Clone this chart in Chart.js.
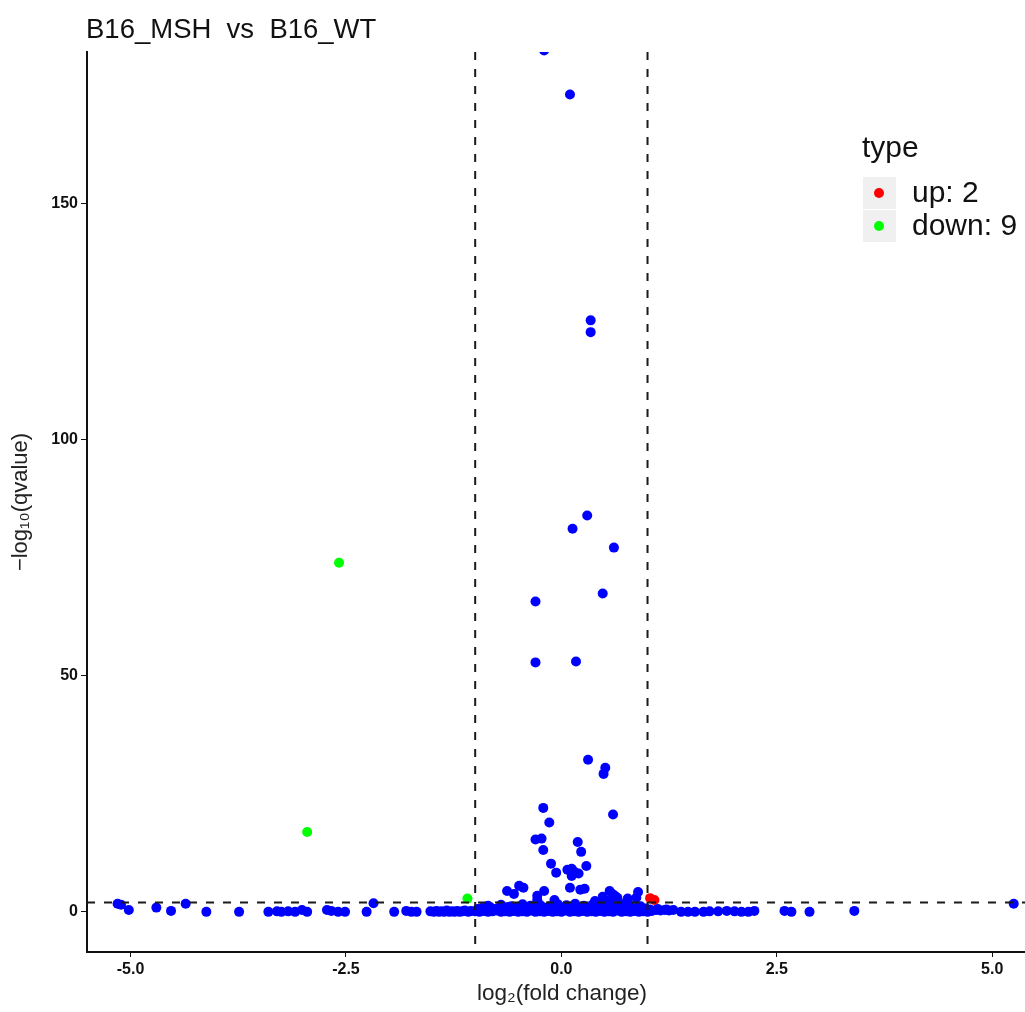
<!DOCTYPE html>
<html>
<head>
<meta charset="utf-8">
<script src="https://cdn.jsdelivr.net/npm/chart.js@4"></script>
<style>
html, body { margin: 0; padding: 0; background: #fff; overflow: hidden; }
</style>
</head>
<body>
<!-- the reference is cropped on the right, so the canvas runs a little past the window -->
<canvas id="volcano" width="1042" height="1012"></canvas>
<script>
// values: [log2 fold change, -log10 qvalue]
const titleText = 'B16_MSH  vs  B16_WT';
const xTicks = [-5, -2.5, 0, 2.5, 5];
const yTicks = [0, 50, 100, 150];
const fcCutoffs = [-1, 1];
const qCutoff = 2;
const legendTitle = 'type';
const legendLabels = ['up: 2', 'down: 9'];

const upPoints = [[1.03, 2.9], [1.08, 2.5]];
const downPoints = [[-2.58, 73.9], [-2.95, 16.9], [-1.09, 2.8]];

const highPoints = [
    [-0.20, 182.3], [0.10, 173], [0.34, 125.2], [0.34, 122.7],
    [0.30, 83.9], [0.13, 81.1], [0.61, 77.1], [-0.30, 65.7], [0.48, 67.4],
    [-0.30, 52.8], [0.17, 53.0], [0.31, 32.2], [0.51, 30.5], [0.49, 29.2],
    [0.60, 20.6], [-0.21, 22.0], [-0.14, 18.9], [-0.30, 15.3], [-0.23, 15.5],
    [0.19, 14.8], [-0.21, 13.1], [0.23, 12.7], [-0.12, 10.2], [0.29, 9.7],
    [-0.06, 8.3], [0.07, 8.9], [0.12, 9.1], [0.15, 8.5], [0.20, 8.1], [0.12, 7.6],
    [0.10, 5.1], [0.22, 4.7], [0.27, 4.9], [-0.63, 4.4], [-0.55, 3.8],
    [-0.49, 5.5], [-0.44, 5.1], [-0.20, 4.4], [-0.28, 3.4], [0.56, 4.4],
    [0.59, 3.8], [0.65, 3.0], [0.89, 4.2], [0.87, 3.0], [0.48, 3.2], [0.77, 2.8],
    [-0.28, 2.5], [-0.08, 2.5], [0.39, 2.3], [0.47, 2.3], [0.54, 2.3],
    [0.74, 1.8], [0.62, 3.4]
];

const sidePoints = [
    [-5.15, 1.7], [-5.11, 1.5], [-5.02, 0.4], [-4.70, 0.9], [-4.53, 0.2], [-4.36, 1.7],
    [-4.12, 0], [-3.74, 0], [-3.40, 0], [-3.30, 0.1], [-3.25, 0], [-3.17, 0.1],
    [-3.09, 0], [-3.01, 0.4], [-2.95, 0], [-2.72, 0.4], [-2.67, 0.2], [-2.59, 0],
    [-2.51, 0], [-2.26, 0], [-2.18, 1.8], [-1.94, 0], [-1.80, 0.2], [-1.74, 0],
    [-1.68, 0], [1.39, 0], [1.47, 0], [1.55, 0], [1.65, 0], [1.72, 0.1],
    [1.82, 0.1], [1.92, 0.2], [2.01, 0.1], [2.09, 0], [2.17, 0], [2.24, 0.2],
    [2.59, 0.2], [2.67, 0], [2.88, 0], [3.40, 0.2], [5.25, 1.7]
];

const bandPoints = [
    [-1.52, 0.1], [-1.48, 0], [-1.45, 0.2], [-1.42, 0], [-1.39, 0.1], [-1.36, 0],
    [-1.33, 0.3], [-1.30, 0], [-1.27, 0.1], [-1.24, 0], [-1.21, 0.2], [-1.18, 0],
    [-1.15, 0.1], [-1.12, 0.3], [-1.08, 0], [-1.05, 0.2],
    [-1.00, 0.1], [-0.95, 0], [-0.90, 0.2], [-0.85, 0], [-0.80, 0.1], [-0.75, 0.3],
    [-0.70, 0], [-0.65, 0.1], [-0.60, 0], [-0.55, 0.2], [-0.50, 0], [-0.45, 0.1],
    [-0.40, 0], [-0.35, 0.3], [-0.30, 0], [-0.25, 0.1], [-0.20, 0], [-0.15, 0.2],
    [-0.10, 0], [-0.05, 0.1], [0.00, 0], [0.05, 0.3], [0.10, 0], [0.15, 0.1],
    [0.20, 0], [0.25, 0.2], [0.30, 0], [0.35, 0.1], [0.40, 0], [0.45, 0.2],
    [0.50, 0], [0.55, 0.1], [0.60, 0], [0.65, 0.3], [0.70, 0], [0.75, 0.1],
    [0.80, 0], [0.85, 0.2], [0.90, 0], [0.95, 0.1], [1.00, 0], [1.05, 0.2],
    [1.10, 0.4], [1.15, 0.3], [1.20, 0.4], [1.25, 0.3], [1.30, 0.4],
    [-0.97, 0.6], [-0.92, 0.8], [-0.87, 0.5], [-0.82, 0.9], [-0.77, 0.6], [-0.72, 0.8],
    [-0.67, 0.5], [-0.62, 1.0], [-0.57, 0.7], [-0.52, 0.9], [-0.47, 0.6], [-0.42, 1.0],
    [-0.37, 0.7], [-0.32, 0.9], [-0.27, 0.6], [-0.22, 1.0], [-0.17, 0.8], [-0.12, 0.9],
    [-0.07, 0.6], [-0.02, 1.0], [0.03, 0.8], [0.08, 0.9], [0.13, 0.7], [0.18, 1.0],
    [0.23, 0.8], [0.28, 0.9], [0.33, 0.6], [0.38, 1.0], [0.43, 0.7], [0.48, 0.9],
    [0.53, 0.6], [0.58, 1.0], [0.63, 0.7], [0.68, 0.9], [0.73, 0.6], [0.78, 0.8],
    [0.83, 0.5], [0.88, 0.9], [0.93, 0.6], [0.98, 0.7], [1.03, 0.5], [1.12, 0.6],
    [1.22, 0.5],
    [-0.85, 1.3], [-0.70, 1.5], [-0.58, 1.2], [-0.45, 1.6], [-0.36, 1.3], [-0.25, 1.5],
    [-0.14, 1.2], [-0.04, 1.6], [0.06, 1.4], [0.16, 1.7], [0.26, 1.3], [0.36, 1.5],
    [0.46, 1.2], [0.57, 1.6], [0.67, 1.3], [0.79, 1.5], [0.92, 1.2]
];

const FONT = '"Liberation Sans", Arial, Helvetica, sans-serif';
const toXY = arr => arr.map(p => ({ x: p[0], y: p[1] }));

function pointSet(label, arr, color) {
    return {
        label: label,
        data: toXY(arr),
        backgroundColor: color,
        borderWidth: 0,
        pointRadius: 5,
        pointHoverRadius: 5,
        clip: 0
    };
}

const extras = {
    id: 'extras',
    beforeDraw(chart) {
        const ctx = chart.ctx;
        ctx.save();
        ctx.fillStyle = '#fff';
        ctx.fillRect(0, 0, chart.width, chart.height);
        ctx.restore();
    },
    afterDatasetsDraw(chart) {
        const { ctx, chartArea: a, scales: { x, y } } = chart;
        ctx.save();
        ctx.strokeStyle = '#1a1a1a';
        ctx.lineWidth = 2;
        ctx.setLineDash([8, 9]);
        fcCutoffs.forEach(v => {
            const px = x.getPixelForValue(v);
            ctx.beginPath();
            ctx.moveTo(px, a.top);
            ctx.lineTo(px, a.bottom);
            ctx.stroke();
        });
        const py = y.getPixelForValue(qCutoff);
        ctx.beginPath();
        ctx.moveTo(a.left, py);
        ctx.lineTo(a.right, py);
        ctx.stroke();
        ctx.restore();
    },
    afterDraw(chart) {
        const { ctx, chartArea: a } = chart;
        ctx.save();
        // title
        ctx.fillStyle = '#111';
        ctx.font = '27.5px ' + FONT;
        ctx.textBaseline = 'alphabetic';
        ctx.textAlign = 'left';
        ctx.fillText(titleText, a.left - 1, 38);
        // legend
        ctx.font = '30px ' + FONT;
        ctx.fillText(legendTitle, 862, 157);
        const colors = ['#ff0000', '#00ff00'];
        legendLabels.forEach((txt, i) => {
            const top = 177 + i * 33;
            ctx.fillStyle = '#f0f0f0';
            ctx.fillRect(863, top, 33, 32);
            ctx.fillStyle = colors[i];
            ctx.beginPath();
            ctx.arc(879, top + 16, 5, 0, Math.PI * 2);
            ctx.fill();
            ctx.fillStyle = '#111';
            ctx.textBaseline = 'middle';
            ctx.fillText(txt, 912, top + 17);
        });
        ctx.restore();
    }
};

new Chart(document.getElementById('volcano').getContext('2d'), {
    type: 'scatter',
    data: {
        datasets: [
            pointSet('other', bandPoints.concat(sidePoints, highPoints), '#0000ff'),
            pointSet('down', downPoints, '#00ff00'),
            pointSet('up', upPoints, '#ff0000')
        ]
    },
    options: {
        responsive: false,
        animation: false,
        devicePixelRatio: 1,
        layout: { padding: { top: 52, left: 0, right: 0, bottom: 0 } },
        plugins: {
            legend: { display: false },
            tooltip: { enabled: false },
            title: { display: false }
        },
        scales: {
            x: {
                type: 'linear',
                min: -5.505,
                max: 5.52,
                afterBuildTicks: s => { s.ticks = xTicks.map(v => ({ value: v })); },
                afterFit: s => { s.height = 60; },
                ticks: {
                    callback: v => v.toFixed(1),
                    font: { family: FONT, size: 16, weight: 'bold' },
                    color: '#111',
                    padding: 3,
                    maxRotation: 0
                },
                grid: { drawOnChartArea: false, drawTicks: true, tickLength: 5, color: '#111' },
                border: { display: true, color: '#111', width: 2 },
                title: {
                    display: true,
                    text: 'log\u2082(fold change)',
                    font: { family: FONT, size: 22.5 },
                    color: '#222',
                    padding: { top: 0, bottom: 5 }
                }
            },
            y: {
                type: 'linear',
                min: -8.5,
                max: 182,
                afterBuildTicks: s => { s.ticks = yTicks.map(v => ({ value: v })); },
                afterFit: s => { s.width = 87; },
                ticks: {
                    callback: v => String(v),
                    font: { family: FONT, size: 16, weight: 'bold' },
                    color: '#111',
                    padding: 3
                },
                grid: { drawOnChartArea: false, drawTicks: true, tickLength: 6, color: '#111' },
                border: { display: true, color: '#111', width: 2 },
                title: {
                    display: true,
                    text: '\u2212log\u2081\u2080(qvalue)',
                    font: { family: FONT, size: 22 },
                    color: '#222',
                    padding: { top: 8, bottom: 0 }
                }
            }
        }
    },
    plugins: [extras]
});
</script>
</body>
</html>
